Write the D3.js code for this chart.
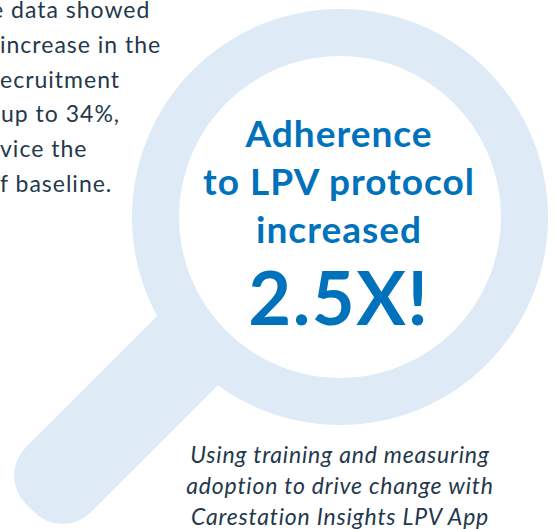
<!DOCTYPE html>
<html>
<head>
<meta charset="utf-8">
<script src="https://cdn.jsdelivr.net/npm/d3@7"></script>
<style>
  body { margin: 0; background: #ffffff; }
  svg { display: block; }
</style>
</head>
<body>
<div id="chart"></div>
<script>
// text content
const introLines = ["e data showed", "increase in the", "ecruitment", "up to 34%,", "vice the", "f baseline."];
const headlineLines = ["Adherence", "to LPV protocol", "increased"];
const multiplier = "2.5X!";
const captionLines = ["Using training and measuring", "adoption to drive change with", "Carestation Insights LPV App"];

// layout (x start of each intro line, the paragraph is cropped at the left edge)
const introX = [-9, 0, 0, 1, 0, 0];

const width = 556, height = 529;
const blue = "#0072bc", pale = "#deebf7", ink = "#24384c";

const svg = d3.select("#chart")
    .append("svg")
    .attr("width", width)
    .attr("height", height);

// magnifier glass
const lens = { cx: 340, cy: 217, outer: 208, inner: 161 };

svg.append("circle")
    .attr("cx", lens.cx)
    .attr("cy", lens.cy)
    .attr("r", lens.outer)
    .attr("fill", pale);

// handle, rotated along the down-left diagonal
svg.append("g")
    .attr("transform", "translate(30,508) rotate(-45)")
  .append("rect")
    .attr("x", 0)
    .attr("y", -46)
    .attr("width", 300)
    .attr("height", 92)
    .attr("rx", 40)
    .attr("fill", pale);

svg.append("circle")
    .attr("cx", lens.cx)
    .attr("cy", lens.cy)
    .attr("r", lens.inner)
    .attr("fill", "#ffffff");

// intro paragraph
const introY = d3.scaleLinear().domain([0, introLines.length - 1]).range([18, 192]);

svg.append("g")
    .selectAll("text")
    .data(introLines)
    .join("text")
    .attr("x", (d, i) => introX[i])
    .attr("y", (d, i) => introY(i))
    .attr("font-family", "Lato, sans-serif")
    .attr("font-size", 23)
    .attr("letter-spacing", 1)
    .attr("fill", ink)
    .text(d => d);

// headline inside the lens
const headY = d3.scaleLinear().domain([0, headlineLines.length - 1]).range([147, 243]);

svg.append("g")
    .selectAll("text")
    .data(headlineLines)
    .join("text")
    .attr("x", 339)
    .attr("y", (d, i) => headY(i))
    .attr("text-anchor", "middle")
    .attr("font-family", "Lato, sans-serif")
    .attr("font-weight", "bold")
    .attr("font-size", 37)
    .attr("letter-spacing", 1)
    .attr("fill", blue)
    .text(d => d);

svg.append("text")
    .attr("x", 339)
    .attr("y", 325)
    .attr("text-anchor", "middle")
    .attr("font-family", "Lato, sans-serif")
    .attr("font-weight", "bold")
    .attr("font-size", 74)
    .attr("letter-spacing", 1.5)
    .attr("fill", blue)
    .text(multiplier);

// caption
const capY = d3.scaleLinear().domain([0, captionLines.length - 1]).range([463, 525]);

svg.append("g")
    .selectAll("text")
    .data(captionLines)
    .join("text")
    .attr("x", 340)
    .attr("y", (d, i) => capY(i))
    .attr("text-anchor", "middle")
    .attr("font-family", "Lato, sans-serif")
    .attr("font-style", "italic")
    .attr("font-size", 23)
    .attr("letter-spacing", 0.8)
    .attr("fill", ink)
    .text(d => d);
</script>
</body>
</html>
